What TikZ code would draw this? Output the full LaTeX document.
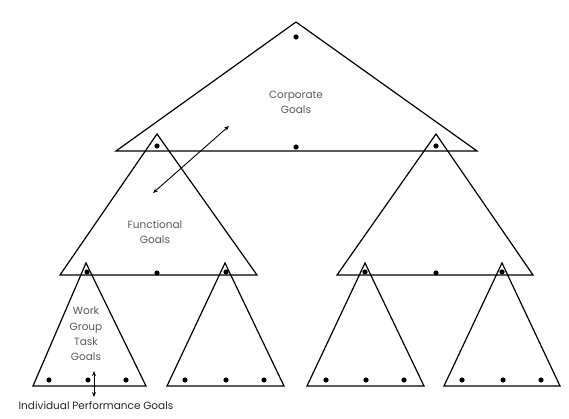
\documentclass[tikz,border=0pt]{standalone}
\usepackage{fontspec}
\setmainfont{Poppins}
\usepackage{xcolor}
\usetikzlibrary{arrows.meta}
\tikzset{
  tri/.style={
    draw,
    line width=1.2pt,
    line join=miter
  },
  dot/.style={
    fill=black
  },
  label/.style={
    align=center,
    font=\fontsize{10.5}{15.3}\selectfont,
    text=black!65,
    inner sep=0pt
  },
  flow/.style={<->, >={Stealth[length=5pt,width=4pt]}, line width=0.9pt}
}

\begin{document}
\begin{tikzpicture}[x=1pt,y=-1pt]
  \useasboundingbox[fill=white] (0,0) rectangle (569,419);

  % triangles
  \draw[tri] (296,22) -- (477,151) -- (116,151) -- cycle;
  \draw[tri] (157,134) -- (257,275) -- (60,275) -- cycle;
  \draw[tri] (436,134) -- (533,275) -- (337,275) -- cycle;
  \draw[tri] (86,263) -- (146,386) -- (33,386) -- cycle;
  \draw[tri] (225,263) -- (284,386) -- (167,386) -- cycle;
  \draw[tri] (365,263) -- (424,386) -- (307,386) -- cycle;
  \draw[tri] (502,263) -- (560,386) -- (444,386) -- cycle;

  % dots
  \fill[dot] (296,37) circle (2.6);
  \fill[dot] (296,147) circle (2.6);
  \fill[dot] (157,146) circle (2.6);
  \fill[dot] (436,146) circle (2.6);
  \fill[dot] (87,272) circle (2.6);
  \fill[dot] (157,273) circle (2.6);
  \fill[dot] (226,272) circle (2.6);
  \fill[dot] (365,272) circle (2.6);
  \fill[dot] (436,273) circle (2.6);
  \fill[dot] (502,272) circle (2.6);
  \foreach \x in {49,88,126,185,226,264,326,366,404,462,503,541}
    \fill[dot] (\x,380) circle (2.6);

  % labels
  \node[label] (corp) at (296,102) {Corporate\\Goals};
  \node[label] (func) at (155,232) {Functional\\Goals};
  \node[label] (work) at (86,334) {Work\\Group\\Task\\Goals};
  \node[label, text=black!85] (indiv) at (96,406) {Individual Performance Goals};

  % arrows
  \coordinate (up) at (229,126);
  \coordinate (down) at (153,193);
  \coordinate (top) at (94,371);
  \coordinate (bottom) at (94,397);
  \draw[flow] (down) -- (up);
  \draw[flow] (top) -- (bottom);
\end{tikzpicture}
\end{document}
